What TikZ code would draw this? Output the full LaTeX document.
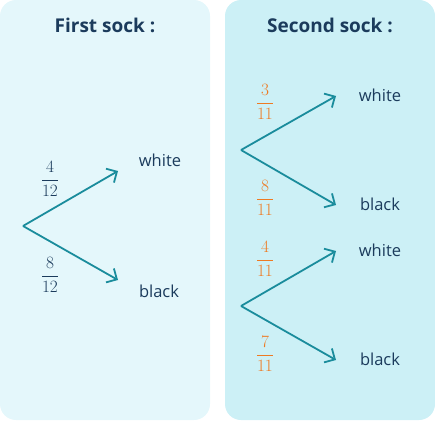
\documentclass[tikz,border=0pt]{standalone}
\usepackage{fontspec}
\setmainfont{Open Sans}
\usetikzlibrary{arrows.meta}
\definecolor{panelA}{HTML}{E4F7FB}
\definecolor{panelB}{HTML}{CCF0F6}
\definecolor{navy}{HTML}{1B3B5C}
\definecolor{teal}{HTML}{1A8C9C}
\definecolor{orng}{HTML}{EE7A22}
\tikzset{
  panel/.style={rounded corners=16pt, draw=none},
  title/.style={text=navy, font=\fontsize{19}{22}\selectfont\bfseries},
  outcome/.style={text=navy, font=\fontsize{16.5}{19}\selectfont},
  prob/.style={text=navy, font=\fontsize{17.5}{20}\selectfont, inner sep=0pt},
  oprob/.style={text=orng, font=\fontsize{17.5}{20}\selectfont, inner sep=0pt},
  branch/.style={draw=teal, line width=1.8pt, -{Straight Barb[length=8pt,width=16pt,line width=1.8pt]}},
}
\begin{document}
\begin{tikzpicture}[x=1pt,y=-1pt]
\useasboundingbox (0,0) rectangle (435,420);
\fill[panelA, panel] (0,0) rectangle (210,420);
\fill[panelB, panel] (225,0) rectangle (435,420);
\node[title] (t1) at (105,25) {First sock :};
\node[title] (t2) at (330,25) {Second sock :};
% first tree
\coordinate (r1) at (23,226);
\coordinate (e1w) at (118,171);
\coordinate (e1b) at (118,280);
\draw[branch] (r1) -- (e1w);
\draw[branch] (r1) -- (e1b);
\node[prob] (p1) at (50,179) {$\displaystyle\frac{4}{12}$};
\node[prob] (p2) at (50,275) {$\displaystyle\frac{8}{12}$};
\node[outcome] (w1) at (160,160) {white};
\node[outcome] (b1) at (159,291) {black};
% second tree top
\coordinate (r2) at (241,150);
\coordinate (e2w) at (336,96);
\coordinate (e2b) at (336,205);
\draw[branch] (r2) -- (e2w);
\draw[branch] (r2) -- (e2b);
\node[oprob] (p3) at (265,102) {$\displaystyle\frac{3}{11}$};
\node[oprob] (p4) at (265,198) {$\displaystyle\frac{8}{11}$};
\node[outcome] (w2) at (380,95) {white};
\node[outcome] (b2) at (380,204) {black};
% second tree bottom
\coordinate (r3) at (241,306);
\coordinate (e3w) at (336,251);
\coordinate (e3b) at (336,360);
\draw[branch] (r3) -- (e3w);
\draw[branch] (r3) -- (e3b);
\node[oprob] (p5) at (265,259) {$\displaystyle\frac{4}{11}$};
\node[oprob] (p6) at (265,354) {$\displaystyle\frac{7}{11}$};
\node[outcome] (w3) at (380,250) {white};
\node[outcome] (b3) at (380,359) {black};
\end{tikzpicture}
\end{document}
